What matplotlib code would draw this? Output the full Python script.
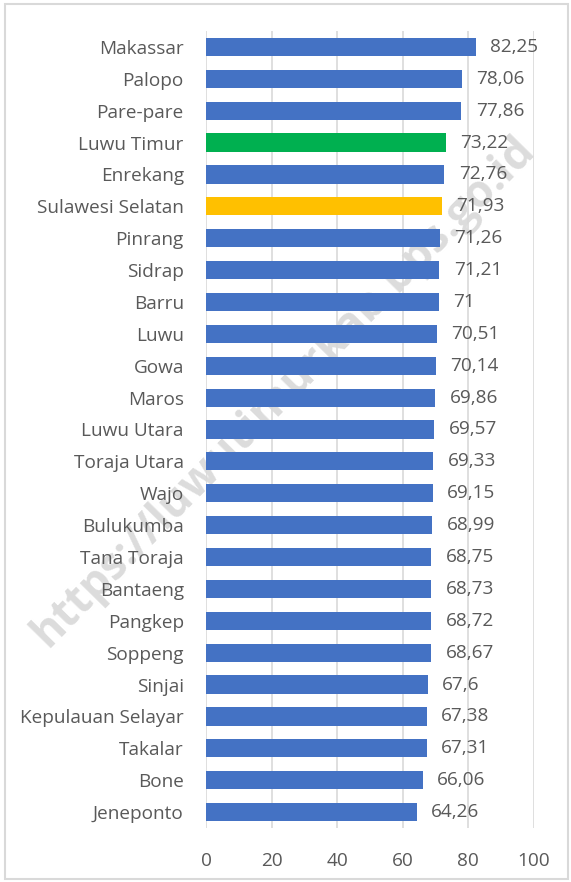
import matplotlib.pyplot as plt
from matplotlib.patches import Rectangle

# data (top to bottom)
daerah = ["Makassar", "Palopo", "Pare-pare", "Luwu Timur", "Enrekang",
          "Sulawesi Selatan", "Pinrang", "Sidrap", "Barru", "Luwu", "Gowa",
          "Maros", "Luwu Utara", "Toraja Utara", "Wajo", "Bulukumba",
          "Tana Toraja", "Bantaeng", "Pangkep", "Soppeng", "Sinjai",
          "Kepulauan Selayar", "Takalar", "Bone", "Jeneponto"]
nilai = [82.25, 78.06, 77.86, 73.22, 72.76, 71.93, 71.26, 71.21, 71, 70.51,
         70.14, 69.86, 69.57, 69.33, 69.15, 68.99, 68.75, 68.73, 68.72,
         68.67, 67.6, 67.38, 67.31, 66.06, 64.26]
label_nilai = ["82,25", "78,06", "77,86", "73,22", "72,76", "71,93", "71,26",
               "71,21", "71", "70,51", "70,14", "69,86", "69,57", "69,33",
               "69,15", "68,99", "68,75", "68,73", "68,72", "68,67", "67,6",
               "67,38", "67,31", "66,06", "64,26"]
xticks = [0, 20, 40, 60, 80, 100]

plt.rcParams['font.family'] = ['Open Sans', 'DejaVu Sans']
abu = "#595959"

warna = []
for d in daerah:
    if d == "Luwu Timur":
        warna.append("#00b050")
    elif d == "Sulawesi Selatan":
        warna.append("#ffc000")
    else:
        warna.append("#4472c4")

fig = plt.figure(figsize=(5.71, 8.82), dpi=100)
ax = fig.add_axes([0.3608, 0.0612, 0.574, 0.9037])
ax.patch.set_alpha(0)

y = list(range(len(daerah)))
ax.barh(y, nilai, height=0.57, color=warna, zorder=3)
for yi, v, t in zip(y, nilai, label_nilai):
    ax.text(v + 4.4, yi, t, va="center", ha="left", fontsize=13.7, color=abu)

ax.set_xlim(0, 100)
ax.set_ylim(len(daerah) - 0.5, -0.5)
ax.set_yticks(y)
ax.set_yticklabels(daerah, fontsize=13.7, color=abu)
ax.set_xticks(xticks)
ax.set_xticklabels([str(x) for x in xticks], fontsize=13.7, color=abu)
ax.tick_params(length=0, pad=17)
ax.tick_params(axis="y", pad=16)
ax.grid(axis="x", color="#d9d9d9", linewidth=1.2, zorder=0)
for s in ax.spines.values():
    s.set_visible(False)

# watermark (di belakang batang)
fig.text(0.497, 0.556, "https://luwutimurkab.bps.go.id", fontsize=32,
         fontweight="bold", color="#dcdcdc", rotation=45.5,
         ha="center", va="center", zorder=-1)

# frame
fig.patches.append(Rectangle((0.009, 0.003), 0.985, 0.993, transform=fig.transFigure,
                             fill=False, edgecolor="#d9d9d9", linewidth=1.5))

fig.savefig("out.png", dpi=100)
